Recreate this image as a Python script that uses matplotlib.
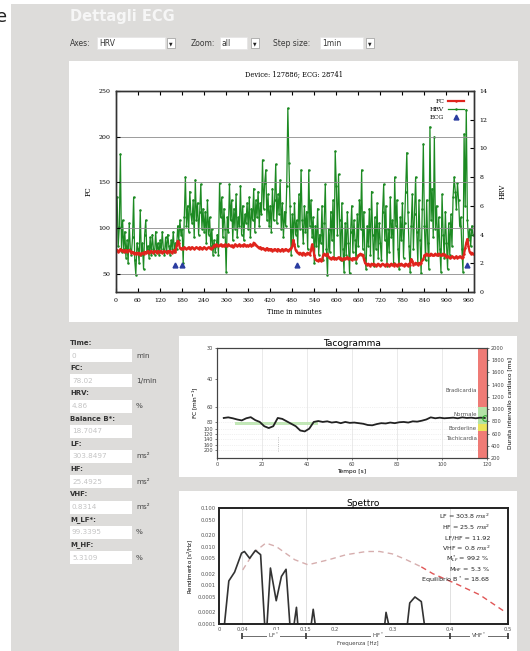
import numpy as np
import matplotlib.pyplot as plt
import matplotlib.transforms as mtransforms
from matplotlib.patches import Rectangle

# ---- data ----
# HRV (right axis, %) sampled every 3 minutes
hrv = [
    5.5, 6.6, 3.2, 4.5, 9.6, 2.8, 5.0, 3.0, 4.2, 2.4, 3.6, 2.0, 4.8, 3.0, 2.6, 3.8, 6.6, 2.2, 1.2, 3.4,
    3.0, 2.0, 5.7, 2.6, 3.4, 1.6, 4.0, 5.0, 2.8, 3.2, 2.4, 3.8, 2.6, 4.0, 3.0, 2.6, 4.2, 2.8, 3.4, 2.6,
    3.6, 2.8, 4.2, 3.0, 2.6, 3.8, 2.8, 4.0, 3.2, 2.6, 3.6, 3.0, 4.2, 2.8, 3.4, 3.0, 4.6, 3.6, 5.0, 4.0,
    4.4, 2.0, 5.2, 8.0, 4.6, 6.0, 4.2, 7.0, 5.4, 4.8, 6.4, 3.8, 7.8, 5.0, 6.2, 4.0, 5.6, 7.5, 4.4, 5.8,
    4.2, 5.6, 3.4, 6.4, 4.0, 5.2, 3.2, 4.4, 2.6, 3.6, 2.8, 3.2, 4.0, 2.6, 7.6, 5.2, 6.6, 3.8, 5.8, 4.4,
    1.4, 5.2, 4.2, 7.5, 5.0, 6.4, 3.6, 5.8, 4.4, 6.8, 3.8, 5.2, 4.6, 7.4, 4.0, 6.0, 3.6, 5.4, 4.8, 6.2,
    4.4, 6.6, 3.8, 5.8, 5.0, 7.2, 4.2, 6.4, 5.2, 7.0, 4.6, 6.2, 5.4, 9.2, 5.8, 7.6, 8.5, 5.0, 6.8, 4.6,
    6.0, 4.2, 7.2, 5.0, 6.4, 8.9, 4.8, 6.8, 5.4, 7.8, 4.4, 6.2, 3.8, 5.6, 4.6, 7.4, 12.8, 9.0, 6.0, 2.6,
    5.4, 3.6, 6.2, 4.0, 5.0, 3.2, 6.8, 4.4, 8.5, 5.0, 3.4, 6.0, 4.2, 5.6, 3.0, 8.5, 4.6, 6.4, 3.8, 5.2,
    2.0, 4.6, 3.2, 5.8, 2.6, 4.0, 3.4, 6.0, 2.2, 4.8, 7.5, 3.0, 1.2, 4.4, 2.8, 5.6, 3.6, 6.4, 2.4, 9.8,
    7.4, 4.0, 8.2, 5.0, 2.2, 6.2, 3.0, 1.4, 4.8, 2.6, 5.6, 3.4, 1.3, 4.2, 6.0, 2.8, 5.0, 3.6, 2.0, 5.4,
    3.2, 6.4, 4.4, 8.5, 3.0, 5.6, 2.4, 1.6, 4.6, 3.2, 5.8, 2.6, 7.0, 4.0, 1.8, 5.2, 3.0, 6.2, 2.4, 4.8,
    3.4, 2.2, 5.6, 7.5, 3.6, 6.0, 1.8, 4.4, 2.8, 6.6, 3.8, 5.0, 2.0, 8.0, 4.6, 6.4, 3.0, 1.6, 5.2, 3.6,
    6.2, 2.4, 4.8, 7.0, 9.7, 5.6, 3.2, 1.4, 4.6, 6.8, 3.0, 5.4, 8.0, 4.2, 2.0, 6.4, 3.6, 1.3, 5.8, 10.3,
    4.6, 2.2, 6.4, 3.4, 1.6, 11.5, 5.0, 7.2, 3.8, 10.8, 4.4, 6.0, 2.6, 5.2, 3.0, 1.4, 6.8, 4.0, 2.4, 5.6,
    3.4, 1.6, 4.8, 2.6, 5.4, 3.2, 6.6, 8.0, 7.0, 5.8, 7.6, 6.4, 4.6, 5.2, 3.0, 1.4, 11.0, 6.0, 12.7, 5.0,
    3.6, 4.4, 3.2, 4.6, 4.0,
]
# FC (left axis, 1/min) sampled every 3 minutes
fc = [
    75, 76, 74, 75, 77, 75, 76, 74, 75, 76, 74, 75, 76, 75, 73, 74, 72, 73, 72, 73,
    72, 73, 71, 72, 73, 72, 74, 73, 74, 75, 73, 74, 75, 74, 73, 75, 74, 73, 75, 74,
    74, 75, 73, 74, 75, 74, 73, 75, 74, 75, 74, 73, 75, 76, 74, 81, 86, 84, 78, 77,
    78, 77, 79, 78, 77, 78, 79, 77, 78, 79, 78, 77, 78, 79, 78, 77, 79, 78, 77, 78,
    79, 78, 77, 78, 79, 78, 77, 78, 79, 81, 80, 82, 81, 80, 81, 82, 80, 81, 80, 82,
    81, 80, 82, 81, 80, 81, 79, 80, 82, 81, 80, 81, 82, 80, 81, 80, 82, 81, 80, 81,
    80, 81, 82, 80, 81, 84, 83, 81, 80, 79, 78, 79, 77, 78, 77, 76, 77, 78, 76, 77,
    76, 77, 75, 76, 77, 76, 75, 77, 76, 75, 76, 77, 75, 76, 77, 76, 75, 76, 77, 78,
    80, 87, 82, 76, 74, 73, 72, 73, 72, 71, 73, 72, 71, 72, 73, 72, 71, 76, 82, 78,
    70, 66, 65, 64, 65, 66, 64, 65, 70, 72, 71, 70, 72, 68, 67, 66, 67, 68, 66, 67,
    66, 67, 68, 66, 67, 65, 66, 67, 66, 67, 68, 66, 67, 66, 65, 67, 66, 67, 66, 68,
    70, 71, 72, 70, 71, 66, 62, 61, 60, 61, 60, 59, 61, 60, 61, 60, 59, 60, 61, 60,
    59, 60, 61, 60, 59, 60, 61, 60, 59, 60, 61, 60, 59, 61, 60, 59, 60, 61, 60, 61,
    60, 59, 60, 61, 60, 59, 61, 60, 66, 64, 60, 61, 62, 61, 60, 62, 61, 62, 65, 66,
    70, 71, 72, 70, 71, 70, 72, 71, 70, 71, 72, 70, 71, 72, 71, 70, 71, 72, 70, 71,
    68, 69, 68, 67, 68, 69, 68, 67, 68, 69, 67, 68, 69, 68, 67, 68, 72, 78, 84, 88,
    80, 74, 72, 73, 72,
]
step_min = 3
ecg_minutes = [161, 181, 494, 957]
ecg_level = [60, 60, 60, 60]

# side fields
field_names = ['Time:', 'FC:', 'HRV:', 'Balance B*:', 'LF:', 'HF:', 'VHF:', 'M_LF*:', 'M_HF:']
field_values = ['0', '78.02', '4.86', '18.7047', '303.8497', '25.4925', '0.8314', '99.3395', '5.3109']
field_units = ['min', '1/min', '%', '', 'ms²', 'ms²', 'ms²', '%', '%']

# tachogram: time [s] and RR interval [ms]
taco_t = list(range(3, 120, 2))
taco_rr = [855, 865, 850, 830, 815, 850, 868, 820, 790, 720, 690, 720, 855, 840, 800, 760,
           720, 650, 635, 680, 790, 805, 790, 800, 780, 790, 770, 790, 775, 780, 770, 760,
           740, 735, 755, 770, 765, 780, 770, 785, 790, 780, 800, 795, 810, 830, 865, 850,
           860, 850, 855, 860, 850, 865, 855, 860, 850, 860, 855]
# FC labels on the left and where they sit on the RR scale in the screenshot
bpm_labels = ['30', '40', '60', '80', '100', '120', '140', '160', '200']
bpm_label_rr = [2000, 1500, 1030, 784, 680, 598, 516, 418, 336]
zone_lo = [1030, 760, 640, 200]
zone_hi = [2000, 1030, 760, 640]
zone_colors = ['#ef7b76', '#b4e3a6', '#ece35a', '#ef7b76']
zone_names = ['Bradicardia', 'Normale', 'Borderline', 'Tachicardia']
zone_label_rr = [1300, 910, 690, 527]

# spectrum
spec_freq = [0.006, 0.017, 0.027, 0.039, 0.044, 0.053, 0.063, 0.072, 0.081, 0.089, 0.099, 0.108,
             0.116, 0.125, 0.134, 0.139, 0.155, 0.163, 0.171, 0.283, 0.289, 0.301, 0.322, 0.330,
             0.339, 0.350, 0.360]
spec_pow = [3e-5, 0.0013, 0.0022, 0.0068, 0.0075, 0.0050, 0.0080, 0.0062, 3e-5, 0.0028, 0.0004,
            0.0017, 0.0026, 3e-5, 0.00027, 3e-5, 3e-5, 0.00024, 3e-5, 3e-5, 0.0002, 3e-5, 3e-5,
            0.00035, 0.0005, 0.00038, 3e-5]
ref_freq = [0.041, 0.06, 0.081, 0.099, 0.115, 0.131, 0.154, 0.19, 0.22, 0.255, 0.278, 0.30,
            0.324, 0.35, 0.37, 0.41, 0.451, 0.494]
ref_pow = [0.0025, 0.007, 0.0124, 0.0101, 0.0068, 0.0046, 0.0034, 0.0046, 0.0062, 0.0075,
           0.0075, 0.0065, 0.0046, 0.003, 0.002, 0.0011, 0.00057, 0.00021]
band_edges = [0.04, 0.15, 0.4, 0.5]
band_names = ['LF$^*$', 'HF$^*$', 'VHF$^*$']
spec_lines = ['LF = 303.8 $ms^2$', 'HF = 25.5 $ms^2$', 'LF/HF = 11.92', 'VHF = 0.8 $ms^2$',
              'M$_{LF}^*$ = 99.2 %', 'M$_{HF}$ = 5.3 %', 'Equilibrio B$^*$ = 18.68']

# ---- layout helpers (pixel coordinates of the 530x651 screenshot) ----
W, H = 530, 651


def box(x0, y0, x1, y1):
    return [x0 / W, 1 - y1 / H, (x1 - x0) / W, (y1 - y0) / H]


def rect(x0, y0, x1, y1, fc, ec='none', z=-1, lw=0.5):
    fig.add_artist(Rectangle((x0 / W, 1 - y1 / H), (x1 - x0) / W, (y1 - y0) / H,
                             transform=fig.transFigure, facecolor=fc, edgecolor=ec,
                             lw=lw, zorder=z))


def text(x, y, s, **kw):
    kw.setdefault('va', 'center')
    fig.text(x / W, 1 - y / H, s, **kw)


fig = plt.figure(figsize=(5.3, 6.51), dpi=100)
fig.patch.set_facecolor('white')

# page background and panels
rect(11, 4, 530, 651, '#dddcda', z=-3)
rect(69, 61, 518, 322, 'white', z=-2)
rect(179, 336, 517, 477, 'white', z=-2)
rect(179, 491, 517, 651, 'white', z=-2)

text(7, 17, 'e', fontsize=13, ha='right', color='#222')
text(70, 17, 'Dettagli ECG', fontsize=10.5, fontweight='bold', color='#f6f6f6')

# drop-down row
ui_c = '#3a3a3a'
for lab, lx, bx0, bx1, val, btn in [('Axes:', 70, 97, 165, 'HRV', 167),
                                    ('Zoom:', 191, 220, 247, 'all', 251),
                                    ('Step size:', 273, 320, 363, '1min', 366)]:
    text(lx, 43, lab, fontsize=5.5, color=ui_c)
    rect(bx0, 37, bx1, 49, 'white', ec='#e4e4e4', z=-1)
    text(bx0 + 2, 43, val, fontsize=5.5, color=ui_c)
    rect(btn, 38, btn + 8, 48, 'white', ec='#9a9a9a', z=-1)
    text(btn + 4, 43.5, '▼', fontsize=3.3, ha='center', color='#222')

# ---- main chart ----
serif = 'DejaVu Serif'
hrv_min = np.arange(len(hrv)) * step_min
fc_min = np.arange(len(fc)) * step_min

ax_h = fig.add_axes(box(116, 91, 474, 292))
ax_f = ax_h.twinx()
ax_h.yaxis.tick_right()
ax_h.yaxis.set_label_position('right')
ax_f.yaxis.tick_left()
ax_f.yaxis.set_label_position('left')

l_hrv, = ax_h.plot(hrv_min, hrv, color='#1c8a22', lw=0.9, marker='.', ms=1.6)
ax_h.set_ylim(0, 14)
ax_h.set_yticks(range(0, 15, 2))
ax_h.set_xlim(0, 975)
ax_h.set_xticks(range(0, 961, 60))

ax_f.grid(axis='y', color='#8c8c8c', lw=0.6)
l_fc, = ax_f.plot(fc_min, fc, color='#e0241c', lw=1.6, marker='.', ms=1.6)
l_ecg, = ax_f.plot(ecg_minutes, ecg_level, ls='none', marker='^', color='#2a3ca0', ms=3.5)
ax_f.set_ylim(30, 250)
ax_f.set_yticks([50, 100, 150, 200, 250])

for a in (ax_h, ax_f):
    a.tick_params(direction='in', length=3, width=0.8, labelsize=4.5, pad=4)
    for lab in a.get_xticklabels() + a.get_yticklabels():
        lab.set_family(serif)
    for sp in a.spines.values():
        sp.set_linewidth(1.0)
        sp.set_color('#333')
ax_h.tick_params(axis='x', top=True)

ax_f.legend([l_fc, l_hrv, l_ecg], ['FC', 'HRV', 'ECG'], loc='upper right',
            bbox_to_anchor=(0.985, 0.985), frameon=False, markerfirst=False,
            prop={'family': serif, 'size': 4.5}, handlelength=2.6, labelspacing=0.45,
            borderpad=0.2, handletextpad=0.6)

text(294, 75, 'Device: 127886; ECG: 28741', fontsize=4.8, ha='center', family=serif)
text(294, 312, 'Time in minutes', fontsize=4.8, ha='center', family=serif)
text(89, 191, 'FC', fontsize=4.8, ha='center', rotation=90, family=serif)
text(503, 191, 'HRV', fontsize=4.8, ha='center', rotation=90, family=serif)

# ---- side fields ----
for i, (nm, val, un) in enumerate(zip(field_names, field_values, field_units)):
    y = 343 + 25.25 * i
    text(70, y, nm, fontsize=5, fontweight='bold', color='#333')
    rect(70, y + 6, 132, y + 19, 'white', z=-1)
    text(72, y + 12.5, val, fontsize=5.2, color='#c4c4c4')
    if un:
        text(136, y + 12.5, un, fontsize=5.2, color='#444')

# ---- tachogram ----
ax_t = fig.add_axes(box(217, 348, 487, 458))
ax_l = ax_t.twinx()
ax_t.yaxis.tick_right()
ax_t.yaxis.set_label_position('right')
ax_l.yaxis.tick_left()
ax_l.yaxis.set_label_position('left')

ax_t.set_xlim(0, 120)
ax_t.set_ylim(200, 2000)
ax_t.set_xticks(range(0, 121, 20))
ax_t.set_yticks(range(200, 2001, 200))
for xv in range(20, 101, 20):
    ax_t.axvline(xv, color='#e2e2e2', lw=0.5, zorder=0)
ax_t.hlines(bpm_label_rr[2:], 0, 116, color='#e4e4e4', lw=0.5, linestyles=':', zorder=0)
ax_t.fill_between([8, 45], [735, 735], [785, 785], color='#b4e3a6', alpha=0.8, lw=0)
for lo, hi, c in zip(zone_lo, zone_hi, zone_colors):
    ax_t.fill_between([116, 120], [lo, lo], [hi, hi], color=c, lw=0)
for nm, rr in zip(zone_names, zone_label_rr):
    ax_t.text(115.5, rr, nm, fontsize=4, ha='right', va='center', color='#555')
ax_t.plot(taco_t, taco_rr, color='#222', lw=1.3)
ax_t.plot(taco_t[-1], taco_rr[-1], marker='o', mfc='none', mec='#2faa2f', ms=4, mew=0.8)
ax_t.plot([27, 27], [320, 560], color='#aaa', lw=0.6, ls=':')

ax_l.set_ylim(ax_t.get_ylim())
ax_l.set_yticks(bpm_label_rr, labels=bpm_labels)
ax_l.set_ylabel('FC [min$^{-1}$]', fontsize=4.2, labelpad=2)
ax_t.set_ylabel('Durata intervallo cardiaco [ms]', fontsize=4.2, labelpad=2)
ax_t.set_xlabel('Tempo [s]', fontsize=4.2, labelpad=1.5)
ax_t.set_title('Tacogramma', fontsize=6.5, pad=1.5)
for a in (ax_t, ax_l):
    a.tick_params(labelsize=3.6, length=1.5, width=0.5, pad=1.5, colors='#444')
    for sp in a.spines.values():
        sp.set_linewidth(0.8)
        sp.set_color('#444')

# ---- spectrum ----
ax_s = fig.add_axes(box(219, 508, 508, 624))
ax_s.set_yscale('log')
ax_s.set_xlim(0, 0.5)
ax_s.set_ylim(1e-4, 0.1)
for ev in band_edges[:-1]:
    ax_s.axvline(ev, color='#d4d4d4', lw=0.5, zorder=0)
ax_s.plot(ref_freq[:14], ref_pow[:14], color='#d6aeae', lw=1.0, dashes=(4, 3))
ax_s.plot(ref_freq[13:], ref_pow[13:], color='#e05656', lw=1.0, dashes=(4, 3))
ax_s.plot(spec_freq, spec_pow, color='#333', lw=1.2)
ytk = [0.1, 0.05, 0.02, 0.01, 0.005, 0.002, 0.001, 0.0005, 0.0002, 0.0001]
ax_s.set_yticks(ytk, labels=['0.100', '0.050', '0.020', '0.010', '0.005', '0.002',
                             '0.001', '0.0005', '0.0002', '0.0001'])
ax_s.minorticks_off()
xtk = [0, 0.04, 0.1, 0.15, 0.2, 0.3, 0.4, 0.5]
ax_s.set_xticks(xtk, labels=['0', '0.04', '0.1', '0.15', '0.2', '0.3', '0.4', '0.5'])
ax_s.tick_params(length=0, labelsize=3.8, pad=2, colors='#555')
for sp in ax_s.spines.values():
    sp.set_linewidth(1.4)
    sp.set_color('#222')
ax_s.set_title('Spettro', fontsize=6.5, pad=1.5)
ax_s.set_ylabel('Rendimento [s$^2$/Hz]', fontsize=4, labelpad=2)
for i, s in enumerate(spec_lines):
    ax_s.text(0.938, 0.925 - 0.0905 * i, s, transform=ax_s.transAxes, fontsize=4.6,
              ha='right', va='center', color='#222')

trans = mtransforms.blended_transform_factory(ax_s.transData, ax_s.transAxes)
ax_s.plot([band_edges[0], band_edges[-1]], [-0.1, -0.1], transform=trans, clip_on=False,
          color='#555', lw=0.6)
ax_s.plot(band_edges, [-0.1] * len(band_edges), transform=trans, clip_on=False,
          ls='none', marker='|', ms=4, mew=1.2, color='#333')
for a, b, nm in zip(band_edges[:-1], band_edges[1:], band_names):
    ax_s.text((a + b) / 2, -0.1, nm, transform=trans, fontsize=4, ha='center', va='center',
              color='#444', bbox=dict(fc='white', ec='none', pad=0.8))
text(358, 644, 'Frequenza [Hz]', fontsize=4, ha='center', color='#444')

fig.savefig('out.png', dpi=100, facecolor=fig.get_facecolor())
